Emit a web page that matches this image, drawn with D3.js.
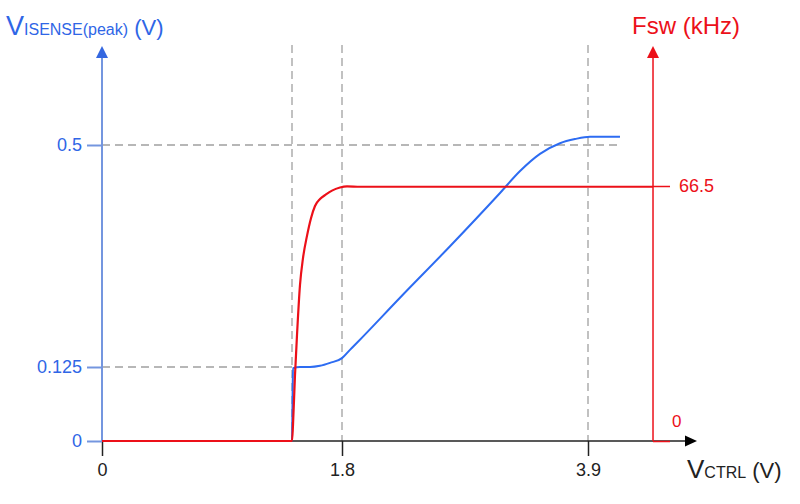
<!DOCTYPE html>
<html><head><meta charset="utf-8">
<script src="https://cdn.jsdelivr.net/npm/d3@7"></script>
<style>body{margin:0;background:#fff}svg{display:block;font-family:"Liberation Sans",Arial,sans-serif}</style>
</head><body><svg id="c" width="800" height="504"></svg>
<script>
// ---- data ----
const xTicks = [0, 1.8, 3.9];
const xTickLabels = ["0", "1.8", "3.9"];
const vTicks = [0, 0.125, 0.5];
const vTickLabels = ["0", "0.125", "0.5"];
const fTicks = [0, 66.5];
const fTickLabels = ["0", "66.5"];
const xJump = 1.425;
const xRightAxis = 4.455;

const vsenseX = [0, 1.425, 1.429, 1.4325, 1.485, 1.56, 1.635, 1.71, 1.8, 1.868, 1.928, 2.295, 2.722, 3.149, 3.32, 3.49, 3.661, 3.789, 3.917, 4.045, 4.173];
const vsenseY = [0, 0, 0.069, 0.123, 0.125, 0.125, 0.127, 0.132, 0.140, 0.154, 0.166, 0.242, 0.329, 0.419, 0.456, 0.485, 0.503, 0.510, 0.514, 0.514, 0.514];

const fswX = [0, 1.425, 1.4325, 1.4475, 1.4625, 1.485, 1.5075, 1.5375, 1.5675, 1.5975, 1.635, 1.68, 1.725, 1.785, 1.843, 1.954, 4.455];
const fswY = [0, 0, 4.2, 17.2, 27.6, 40.7, 47.7, 53.5, 58.1, 61.3, 63.1, 64.3, 65.3, 66.1, 66.4, 66.3, 66.3];

// ---- styling ----
const BLUE_TXT = "#2f66e6", BLUE_AX = "#7496df", BLUE_LINE = "#2d6cf2";
const RED = "#ec1019", GRID = "#a0a0a0", BLACK = "#222";

const svg = d3.select("#c");
const x = d3.scaleLinear().domain([0, 1.8, 3.9]).range([102, 342, 588]);
const yL = d3.scaleLinear().domain([0, 0.5]).range([441, 145]);
const yR = d3.scaleLinear().domain([0, 66.5]).range([441, 186]);
const yTop = 45;

// grid dashed lines
const g = svg.append("g").attr("stroke", GRID).attr("stroke-width", 1.3).attr("stroke-dasharray", "8,5").attr("fill", "none");
[xJump, 1.8, 3.9].forEach(v => g.append("line").attr("x1", x(v)).attr("x2", x(v)).attr("y1", yTop).attr("y2", yL(0)));
g.append("line").attr("x1", x(0)).attr("x2", x(xJump)).attr("y1", yL(0.125)).attr("y2", yL(0.125));
g.append("line").attr("x1", x(0)).attr("x2", x(4.19)).attr("y1", yL(0.5)).attr("y2", yL(0.5));

// x axis
const xAxis = d3.axisBottom(x).tickValues(xTicks).tickSize(15).tickPadding(7).tickFormat((d, i) => xTickLabels[i]);
const gx = svg.append("g").attr("transform", `translate(0,${yL(0)})`).call(xAxis);
gx.select(".domain").remove();
gx.selectAll("line").attr("stroke", BLACK).attr("stroke-width", 1.5);
gx.selectAll("text").attr("fill", BLACK).attr("font-size", 18).attr("font-family", "Liberation Sans, Arial");
svg.append("line").attr("x1", x(0)).attr("x2", 688).attr("y1", yL(0)).attr("y2", yL(0)).attr("stroke", BLACK).attr("stroke-width", 1.5);
svg.append("path").attr("d", `M697,${yL(0)} L685,${yL(0) - 5.5} L685,${yL(0) + 5.5} Z`).attr("fill", "#000");

// left axis
const lAxis = d3.axisLeft(yL).tickValues(vTicks).tickSize(15).tickPadding(5).tickFormat((d, i) => vTickLabels[i]);
const gl = svg.append("g").attr("transform", `translate(${x(0)},0)`).call(lAxis);
gl.select(".domain").remove();
gl.selectAll("line").attr("stroke", BLUE_AX).attr("stroke-width", 2);
gl.selectAll("text").attr("fill", BLUE_TXT).attr("font-size", 18).attr("font-family", "Liberation Sans, Arial");
svg.append("line").attr("x1", x(0)).attr("x2", x(0)).attr("y1", yL(0)).attr("y2", 56).attr("stroke", BLUE_AX).attr("stroke-width", 2);
svg.append("path").attr("d", `M${x(0)},46 L${x(0) - 6},58 L${x(0) + 6},58 Z`).attr("fill", "#3467e0");

// right axis
const xr = x(xRightAxis);
const rAxis = d3.axisRight(yR).tickValues(fTicks).tickSize(17).tickPadding(9).tickFormat((d, i) => fTickLabels[i]);
const gr = svg.append("g").attr("transform", `translate(${xr},0)`).call(rAxis);
gr.select(".domain").remove();
gr.selectAll("line").attr("stroke", RED).attr("stroke-width", 1.5);
gr.selectAll("text").attr("fill", RED).attr("font-size", 18).attr("font-family", "Liberation Sans, Arial");
gr.selectAll(".tick").filter(d => d === 0).select("text").attr("x", 19).attr("dy", "-0.85em").attr("font-size", 17);
svg.append("line").attr("x1", xr).attr("x2", xr).attr("y1", yR(0)).attr("y2", 56).attr("stroke", RED).attr("stroke-width", 1.5);
svg.append("path").attr("d", `M${xr},46 L${xr - 6},58 L${xr + 6},58 Z`).attr("fill", RED);

// curves
const vData = vsenseX.map((d, i) => [d, vsenseY[i]]);
const fData = fswX.map((d, i) => [d, fswY[i]]);
svg.append("path").datum(vData).attr("fill", "none").attr("stroke", BLUE_LINE).attr("stroke-width", 2)
  .attr("d", d3.line().x(d => x(d[0])).y(d => yL(d[1])).curve(d3.curveMonotoneX));
svg.append("path").datum(fData).attr("fill", "none").attr("stroke", RED).attr("stroke-width", 2.2)
  .attr("d", d3.line().x(d => x(d[0])).y(d => yR(d[1])).curve(d3.curveMonotoneX));

// titles
const tl = svg.append("text").attr("x", 6).attr("y", 35).attr("fill", BLUE_TXT).attr("font-family", "Liberation Sans, Arial");
tl.append("tspan").attr("font-size", 27).text("V");
tl.append("tspan").attr("font-size", 16).text("ISENSE(peak)");
tl.append("tspan").attr("font-size", 22).text(" (V)");

svg.append("text").attr("x", 632).attr("y", 34).attr("fill", RED).attr("font-size", 24)
  .attr("font-family", "Liberation Sans, Arial").text("Fsw (kHz)");

const tx = svg.append("text").attr("x", 687).attr("y", 478).attr("fill", BLACK).attr("font-family", "Liberation Sans, Arial");
tx.append("tspan").attr("font-size", 26).text("V");
tx.append("tspan").attr("font-size", 16).text("CTRL");
tx.append("tspan").attr("font-size", 22).text(" (V)");
</script></body></html>
